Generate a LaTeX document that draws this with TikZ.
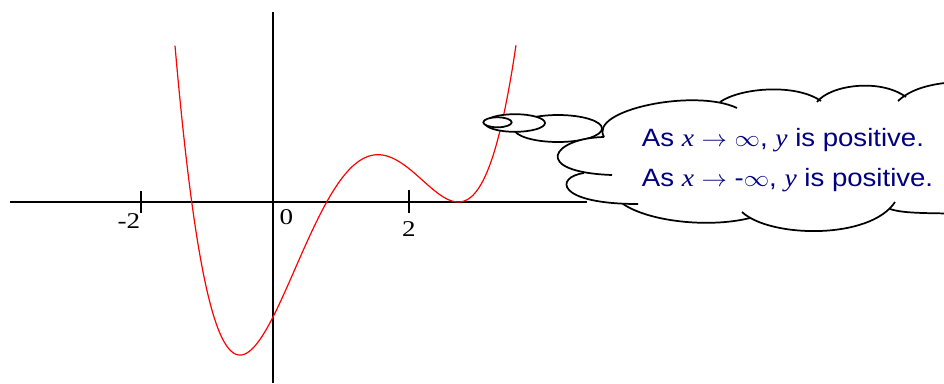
\documentclass[tikz,border=0pt]{standalone}
\usepackage{fontspec}
\setmainfont{Liberation Sans}
\newfontfamily\tnr{Liberation Serif}
\definecolor{navytext}{RGB}{0,0,128}
\begin{document}
\begin{tikzpicture}[x=0.75pt,y=-0.75pt,
  axisline/.style={line width=1.5pt,black},
  tickmark/.style={line width=1.5pt,black},
  ticklbl/.style={inner sep=0pt,anchor=base,font=\tnr\fontsize{16.9}{18}\selectfont},
  curveline/.style={red,line width=0.9pt},
  bubble/.style={draw=black,fill=white,line width=1.3pt},
  cloudline/.style={black,line width=1.3pt},
  txt/.style={inner sep=0pt,anchor=base west,text=navytext,font=\fontsize{18.8}{22}\selectfont}]
\useasboundingbox (0,0) rectangle (944,383);
\clip (0,0) rectangle (944,383);
% axes
\coordinate (xl) at (10,202);
\coordinate (xr) at (587,202);
\coordinate (yt) at (273,12);
\coordinate (yb) at (273,383);
\draw[axisline] (xl) -- (xr);
\draw[axisline] (yt) -- (yb);
% ticks
\coordinate (t1a) at (141,191); \coordinate (t1b) at (141,213);
\coordinate (t2a) at (409,190); \coordinate (t2b) at (409,213);
\draw[tickmark] (t1a) -- (t1b);
\draw[tickmark] (t2a) -- (t2b);
\node[ticklbl] (lm2) at (128.8,228) {\scalebox{1.2}[1]{-2}};
\node[ticklbl] (l0) at (286.3,224.3) {\scalebox{1.2}[1]{0}};
\node[ticklbl] (l2) at (409,236.7) {\scalebox{1.2}[1]{2}};
% curve
\draw[curveline] plot[domain=-1.435:3.56,samples=250,smooth]
  ({273+68.3*\x},{202-16.7*(\x+1.19)*(\x-0.786)*(\x-2.713)*(\x-2.713)});
% thought bubbles
\draw[bubble] (558,128.5) ellipse [x radius=44, y radius=13.5];
\draw[bubble] (515,123) ellipse [x radius=30, y radius=8.8];
\draw[bubble] (497.5,122.3) ellipse [x radius=14.2, y radius=5];
% cloud fill
\fill[white] (604,137) .. controls (552,138) and (530,172) .. (612,175)
  -- (584,173) .. controls (555,177) and (555,204) .. (638,204)
  -- (623,204) .. controls (650,222) and (710,228) .. (750,218)
  -- (742,212) .. controls (770,238) and (870,240) .. (895,202)
  -- (890,209) .. controls (905,214) and (930,213) .. (990,214)
  -- (990,82) .. controls (945,80) and (915,85) .. (898,101)
  -- (905,98) .. controls (880,78) and (830,85) .. (817,102)
  -- (820,100) .. controls (795,83) and (740,88) .. (720,102)
  -- (737,108) .. controls (695,88) and (588,110) .. (604,137) -- cycle;
% cloud lobes
\draw[cloudline] (604,137) .. controls (588,110) and (695,88) .. (737,108);
\draw[cloudline] (720,102) .. controls (740,88) and (795,83) .. (821,101);
\draw[cloudline] (817,102) .. controls (830,85) and (880,78) .. (906,97);
\draw[cloudline] (898,101) .. controls (915,85) and (945,80) .. (990,82);
\draw[cloudline] (604,137) .. controls (552,138) and (530,172) .. (612,175);
\draw[cloudline] (584,173) .. controls (555,177) and (555,204) .. (638,204);
\draw[cloudline] (623,204) .. controls (650,222) and (710,228) .. (750,218);
\draw[cloudline] (742,212) .. controls (770,238) and (870,240) .. (895,202);
\draw[cloudline] (890,209) .. controls (905,214) and (930,213) .. (990,214);
% text
\node[txt] (line1) at (641.7,146.7) {\scalebox{1.1}[1]{As {\tnr\itshape x} $\rightarrow$ $\infty$, {\tnr\itshape y} is positive.}};
\node[txt] (line2) at (641.7,186.7) {\scalebox{1.1}[1]{As {\tnr\itshape x} $\rightarrow$ -$\infty$, {\tnr\itshape y} is positive.}};
\end{tikzpicture}
\end{document}
